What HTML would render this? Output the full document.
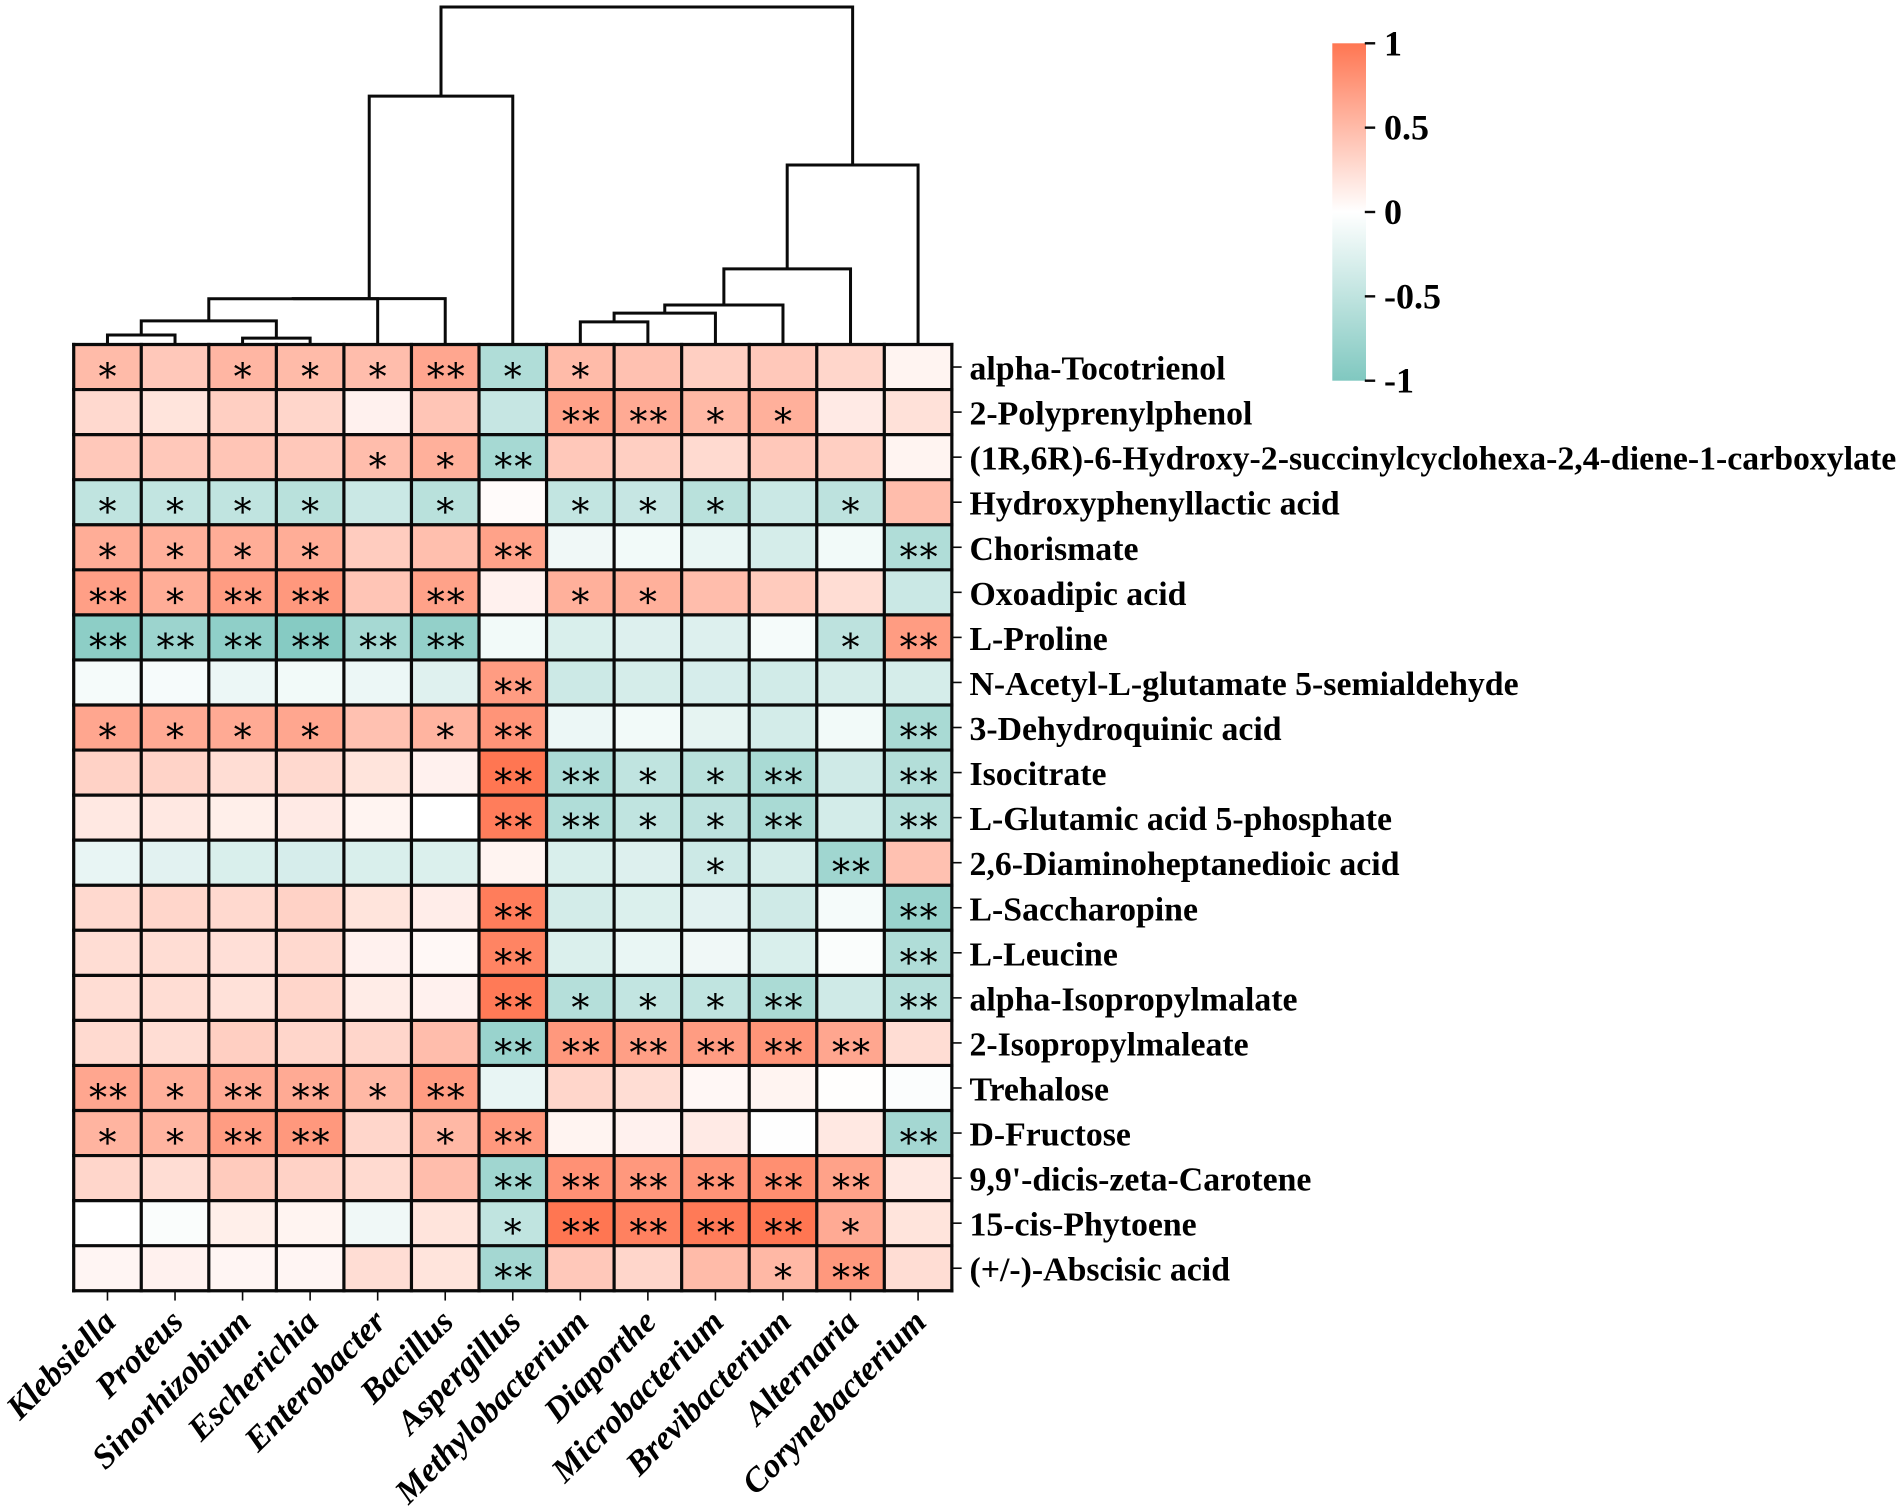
<!DOCTYPE html>
<html lang="en">
<head>
<meta charset="utf-8">
<title>Metabolite-genus correlation heatmap</title>
<style>
html,body{margin:0;padding:0;background:#fff;}
#chart{display:block;width:1902px;height:1512px;}
text{font-family:"Liberation Serif",serif;fill:#000;}
</style>
</head>
<body>
<svg id="chart" xmlns="http://www.w3.org/2000/svg" width="1902" height="1512" viewBox="0 0 1902 1512">
<defs>
<linearGradient id="cbGrad" x1="0" y1="0" x2="0" y2="1">
<stop offset="0" stop-color="#ff7652"/>
<stop offset="0.5" stop-color="#ffffff"/>
<stop offset="1" stop-color="#80c8c0"/>
</linearGradient>
</defs>
</svg>
<script>
const genera = ["Klebsiella","Proteus","Sinorhizobium","Escherichia","Enterobacter","Bacillus","Aspergillus","Methylobacterium","Diaporthe","Microbacterium","Brevibacterium","Alternaria","Corynebacterium"];
const metabolites = ["alpha-Tocotrienol","2-Polyprenylphenol","(1R,6R)-6-Hydroxy-2-succinylcyclohexa-2,4-diene-1-carboxylate","Hydroxyphenyllactic acid","Chorismate","Oxoadipic acid","L-Proline","N-Acetyl-L-glutamate 5-semialdehyde","3-Dehydroquinic acid","Isocitrate","L-Glutamic acid 5-phosphate","2,6-Diaminoheptanedioic acid","L-Saccharopine","L-Leucine","alpha-Isopropylmalate","2-Isopropylmaleate","Trehalose","D-Fructose","9,9'-dicis-zeta-Carotene","15-cis-Phytoene","(+/-)-Abscisic acid"];
const correlations = [
[.5,.4,.53,.5,.48,.65,-.62,.5,.45,.35,.4,.3,.08],
[.28,.2,.35,.3,.1,.42,-.45,.68,.62,.52,.58,.15,.22],
[.4,.4,.42,.4,.48,.58,-.7,.4,.35,.27,.4,.35,.08],
[-.5,-.48,-.5,-.55,-.42,-.55,.03,-.48,-.45,-.55,-.42,-.52,.48],
[.6,.58,.6,.6,.37,.47,.68,-.12,-.1,-.17,-.33,-.1,-.62],
[.7,.6,.72,.75,.42,.68,.1,.58,.58,.48,.38,.25,-.42],
[-.9,-.78,-.88,-.95,-.7,-.85,-.1,-.3,-.27,-.27,-.08,-.52,.72],
[-.08,-.07,-.15,-.1,-.15,-.25,.72,-.4,-.33,-.32,-.36,-.33,-.33],
[.65,.62,.62,.65,.45,.55,.78,-.15,-.1,-.2,-.35,-.1,-.68],
[.33,.32,.25,.28,.2,.1,1,-.65,-.5,-.55,-.68,-.38,-.6],
[.17,.17,.12,.15,.08,0,.95,-.62,-.5,-.52,-.68,-.35,-.58],
[-.18,-.23,-.3,-.32,-.3,-.28,.08,-.3,-.27,-.4,-.33,-.75,.45],
[.28,.3,.28,.33,.2,.13,.95,-.35,-.28,-.23,-.38,-.08,-.8],
[.25,.25,.23,.28,.1,.05,.9,-.28,-.17,-.12,-.3,-.04,-.62],
[.25,.25,.22,.3,.14,.1,.97,-.58,-.48,-.5,-.66,-.38,-.58],
[.27,.25,.35,.3,.3,.48,-.8,.75,.7,.72,.78,.65,.25],
[.65,.58,.62,.62,.52,.72,-.18,.3,.25,.06,.08,.01,-.03],
[.55,.55,.72,.75,.3,.52,.75,.08,.1,.15,-.01,.17,-.72],
[.3,.25,.38,.33,.27,.48,-.75,.8,.75,.78,.82,.68,.17],
[0,-.04,.12,.08,-.12,.2,-.5,1,.92,.97,1,.62,.2],
[.07,.1,.07,.07,.25,.2,-.72,.4,.3,.5,.52,.75,.25]
];
const significance = [
["*","","*","*","*","**","*","*","","","","",""],
["","","","","","","","**","**","*","*","",""],
["","","","","*","*","**","","","","","",""],
["*","*","*","*","","*","","*","*","*","","*",""],
["*","*","*","*","","","**","","","","","","**"],
["**","*","**","**","","**","","*","*","","","",""],
["**","**","**","**","**","**","","","","","","*","**"],
["","","","","","","**","","","","","",""],
["*","*","*","*","","*","**","","","","","","**"],
["","","","","","","**","**","*","*","**","","**"],
["","","","","","","**","**","*","*","**","","**"],
["","","","","","","","","","*","","**",""],
["","","","","","","**","","","","","","**"],
["","","","","","","**","","","","","","**"],
["","","","","","","**","*","*","*","**","","**"],
["","","","","","","**","**","**","**","**","**",""],
["**","*","**","**","*","**","","","","","","",""],
["*","*","**","**","","*","**","","","","","","**"],
["","","","","","","**","**","**","**","**","**",""],
["","","","","","","*","**","**","**","**","*",""],
["","","","","","","**","","","","*","**",""]
];
const dendroMerges = [
[0,1,2.8],[2,3,1.9],[13,14,7.0],[15,4,13.55],[16,5,13.6],[17,6,73.6],
[7,8,6.7],[19,9,9.3],[20,10,11.7],[21,11,22.4],[22,12,53.2],[18,23,100]
];
const colorbarTicks = [1,0.5,0,-0.5,-1];
const colorbarTickLabels = ["1","0.5","0","-0.5","-1"];

const svg = document.getElementById('chart');
const NS = 'http://www.w3.org/2000/svg';
const plot = {left:73.7, top:344.5, cellW:67.55, cellH:45.06};
const plotRight = plot.left + plot.cellW * genera.length;
const plotBottom = plot.top + plot.cellH * metabolites.length;
const dendroTopY = 7, barTop = 43.3, barBottom = 380.7, barLeft = 1332.3, barRight = 1366;

const xCenter = i => plot.left + plot.cellW * (i + 0.5);
const yCenter = i => plot.top + plot.cellH * (i + 0.5);
const dendroY = h => plot.top - (plot.top - dendroTopY) * h / 100;
const cbY = v => barTop + (1 - v) / 2 * (barBottom - barTop);

function mix(a, b, t) { return Math.round(a + (b - a) * t); }
function colorFor(v) {
  const t = Math.min(1, Math.abs(v));
  const c = v >= 0 ? [255,118,82] : [128,200,192];
  return 'rgb(' + mix(255,c[0],t) + ',' + mix(255,c[1],t) + ',' + mix(255,c[2],t) + ')';
}
function make(tag, attrs, parent) {
  const el = document.createElementNS(NS, tag);
  for (const k in attrs) el.setAttribute(k, attrs[k]);
  (parent || svg).appendChild(el);
  return el;
}
function line(x1, y1, x2, y2, w, parent) {
  return make('line', {x1:x1, y1:y1, x2:x2, y2:y2, stroke:'#0a0a0a', 'stroke-width':w, 'stroke-linecap':'square'}, parent);
}

/* heatmap cells */
correlations.forEach(function (row, r) {
  row.forEach(function (v, c) {
    const cell = make('rect', {x:plot.left + c * plot.cellW, y:plot.top + r * plot.cellH, width:plot.cellW, height:plot.cellH, fill:colorFor(v)});
    
    
  });
});

/* cell grid */
const grid = make('g', {});


for (let c = 0; c <= genera.length; c++) {
  line(plot.left + c * plot.cellW, plot.top, plot.left + c * plot.cellW, plotBottom, 3.2, grid);
}
for (let r = 0; r <= metabolites.length; r++) {
  line(plot.left, plot.top + r * plot.cellH, plotRight, plot.top + r * plot.cellH, 3.2, grid);
}

/* significance stars */
significance.forEach(function (row, r) {
  row.forEach(function (s, c) {
    if (!s) return;
    const t = make('text', {x:xCenter(c) + (s.length > 1 ? 1.5 : 1), y:yCenter(r) + 22.5, 'text-anchor':'middle', 'font-size':36, 'letter-spacing':'2px', style:'font-family:"DejaVu Serif",serif'});
    t.textContent = s;
    
    
  });
});

/* metabolite axis */
metabolites.forEach(function (name, r) {
  const tick = line(plotRight, yCenter(r), plotRight + 9, yCenter(r), 1.6);
  
  
  const t = make('text', {x:969.5, y:yCenter(r) + 12.5, 'font-size':33.8, 'font-weight':'bold'});
  t.textContent = name;
  
  
});

/* genus axis */
genera.forEach(function (name, c) {
  const tick = line(xCenter(c), plotBottom, xCenter(c), plotBottom + 9, 1.6);
  
  
  const ax = xCenter(c) + 10, ay = plotBottom + 33;
  const t = make('text', {x:ax, y:ay, 'text-anchor':'end', 'font-size':34, 'font-weight':'bold', 'font-style':'italic', transform:'rotate(-45 ' + ax + ' ' + ay + ')'});
  t.textContent = name;
  
  
});

/* dendrogram */
const dendro = make('g', {fill:'none'});


const nodes = genera.map(function (_, i) { return {x:xCenter(i), h:0}; });
dendroMerges.forEach(function (m) {
  const a = nodes[m[0]], b = nodes[m[1]], h = m[2];
  const p = make('path', {d:'M' + a.x + ' ' + dendroY(a.h) + 'V' + dendroY(h) + 'H' + b.x + 'V' + dendroY(b.h), stroke:'#0a0a0a', 'stroke-width':3, fill:'none'}, dendro);
  
  
  nodes.push({x:(a.x + b.x) / 2, h:h});
});

/* colour bar */
const bar = make('rect', {x:barLeft, y:barTop, width:barRight - barLeft, height:barBottom - barTop, fill:'url(#cbGrad)'});


colorbarTicks.forEach(function (v, i) {
  const tick = line(barRight, cbY(v), barRight + 8, cbY(v), 2.4);
  
  
  const t = make('text', {x:1384, y:cbY(v) + 12, 'font-size':36, 'font-weight':'bold'});
  t.textContent = colorbarTickLabels[i];
  
  
});
</script>
</body>
</html>
